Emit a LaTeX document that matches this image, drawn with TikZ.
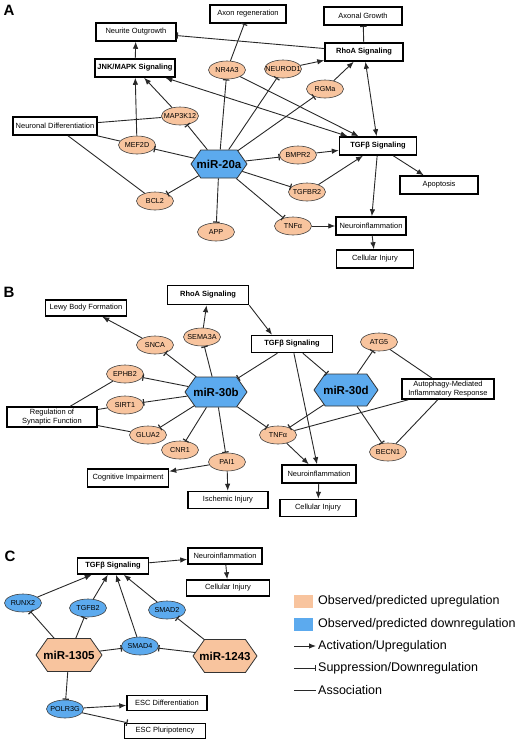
\documentclass[tikz,border=0pt]{standalone}
\usepackage{fontspec}
\setmainfont{Liberation Sans}
\usetikzlibrary{shapes, arrows.meta}
\definecolor{upcol}{RGB}{248,196,158}
\definecolor{downcol}{RGB}{92,170,238}
\definecolor{linecol}{RGB}{40,40,40}

\begin{document}
\begin{tikzpicture}[x=1pt, y=-1pt,
    >={Latex[length=7pt, width=5.5pt]},
    box/.style={draw=black, line width=1.5pt, fill=white, minimum height=18, inner sep=1.5pt, align=center, font=\fontsize{7.5}{9}\selectfont},
    sigbox/.style={box, font=\bfseries\fontsize{7.5}{9}\selectfont},
    gene/.style={ellipse, draw=black!75, line width=0.6pt, fill=upcol, minimum width=37, minimum height=18, inner xsep=-5pt, inner ysep=0pt, font=\fontsize{7.2}{8}\selectfont},
    downgene/.style={gene, fill=downcol},
    mirna/.style={signal, signal to=west and east, signal pointer angle=110, draw=black!80, line width=0.8pt, fill=downcol, minimum width=56, minimum height=28, inner xsep=-6pt, inner ysep=0pt, font=\bfseries\fontsize{11.5}{13}\selectfont},
    upmirna/.style={mirna, fill=upcol},
    panel/.style={font=\bfseries\fontsize{15}{17}\selectfont},
    act/.style={draw=linecol, line width=0.9pt, ->},
    dual/.style={draw=linecol, line width=0.9pt, <->},
    inhib/.style={draw=linecol, line width=0.9pt, -{Bar[width=6.5pt, line width=1.2pt]}},
    assoc/.style={draw=linecol, line width=0.9pt},
    legtext/.style={anchor=west, inner sep=2pt, font=\fontsize{12.5}{14}\selectfont}
]
    \useasboundingbox (0,0) rectangle (520,745);

    % Panel A
    \node[panel] (labA) at (9,10) {A};
    \node[box, minimum width=80] (neurite) at (136,32) {Neurite Outgrowth};
    \node[box, minimum width=76] (axonreg) at (248,14) {Axon regeneration};
    \node[box, minimum width=78] (axonal) at (363,16) {Axonal Growth};
    \node[sigbox, minimum width=78] (rhoA) at (364,52) {RhoA Signaling};
    \node[sigbox, minimum width=80] (jnkA) at (135,68) {JNK/MAPK Signaling};
    \node[box, minimum width=84] (neurdiff) at (55,126) {Neuronal Differentiation};
    \node[sigbox, minimum width=77] (tgfA) at (378,146) {TGFβ Signaling};
    \node[box, minimum width=78] (apopt) at (439,185) {Apoptosis};
    \node[box, minimum width=70] (neuroinfA) at (371,226) {Neuroinflammation};
    \node[box, minimum width=77] (injuryA) at (375,259) {Cellular Injury};
    \node[mirna] (mir20a) at (219,164) {miR-20a};
    \node[gene] (nr4a3) at (227,70) {NR4A3};
    \node[gene] (neurod1) at (283,69) {NEUROD1};
    \node[gene] (rgma) at (325,89) {RGMa};
    \node[gene] (map3k12) at (180,116) {MAP3K12};
    \node[gene] (mef2d) at (137,145) {MEF2D};
    \node[gene] (bcl2) at (155,201) {BCL2};
    \node[gene] (app) at (216,232) {APP};
    \node[gene] (bmpr2) at (298,155) {BMPR2};
    \node[gene] (tgfbr2) at (307,192) {TGFBR2};
    \node[gene] (tnfA) at (293,226) {TNFα};

    \draw[act] (jnkA) -- (neurite);
    \draw[inhib] (rhoA) -- (axonal);
    \draw[inhib] (rhoA) -- (neurite);
    \draw[inhib] (nr4a3) -- (axonreg);
    \draw[act] (nr4a3) -- (tgfA);
    \draw[dual] (jnkA) -- (tgfA);
    \draw[act] (map3k12) -- (jnkA);
    \draw[assoc] (map3k12) -- (neurdiff);
    \draw[act] (mef2d) -- (jnkA);
    \draw[assoc] (mef2d) -- (neurdiff);
    \draw[assoc] (bcl2) -- (neurdiff);
    \draw[inhib] (mir20a) -- (map3k12);
    \draw[inhib] (mir20a) -- (nr4a3);
    \draw[inhib] (mir20a) -- (neurod1);
    \draw[inhib] (mir20a) -- (rgma);
    \draw[inhib] (mir20a) -- (mef2d);
    \draw[inhib] (mir20a) -- (bcl2);
    \draw[inhib] (mir20a) -- (app);
    \draw[inhib] (mir20a) -- (bmpr2);
    \draw[inhib] (mir20a) -- (tgfbr2);
    \draw[inhib] (mir20a) -- (tnfA);
    \draw[act] (neurod1) -- (rhoA);
    \draw[act] (rgma) -- (rhoA);
    \draw[dual] (rhoA) -- (tgfA);
    \draw[act] (bmpr2) -- (tgfA);
    \draw[act] (tgfbr2) -- (tgfA);
    \draw[act] (tgfA) -- (apopt);
    \draw[act] (tgfA) -- (neuroinfA);
    \draw[act] (tnfA) -- (neuroinfA);
    \draw[act] (neuroinfA) -- (injuryA);

    % Panel B
    \node[panel] (labB) at (9,292) {B};
    \node[box, minimum width=81, minimum height=16] (lewy) at (86,308) {Lewy Body Formation};
    \node[sigbox, minimum width=81, minimum height=19] (rhoB) at (208,295) {RhoA Signaling};
    \node[sigbox, minimum width=81, minimum height=17] (tgfB) at (292,344) {TGFβ Signaling};
    \node[box, minimum width=92, minimum height=20] (autoph) at (448,389) {Autophagy-Mediated\\Inflammatory Response};
    \node[box, minimum width=90, minimum height=20] (regsyn) at (52,417) {Regulation of\\Synaptic Function};
    \node[box, minimum width=74] (neuroinfB) at (319,474) {Neuroinflammation};
    \node[box, minimum width=76, minimum height=17] (injuryB) at (318,508) {Cellular Injury};
    \node[box, minimum width=81] (cognit) at (128,478) {Cognitive Impairment};
    \node[box, minimum width=80, minimum height=17] (ischem) at (228,500) {Ischemic Injury};
    \node[mirna, minimum width=62, minimum height=30] (mir30b) at (216,392) {miR-30b};
    \node[mirna, minimum width=64, minimum height=32] (mir30d) at (346,390) {miR-30d};
    \node[gene] (sema3a) at (202,337) {SEMA3A};
    \node[gene] (snca) at (155,345) {SNCA};
    \node[gene] (ephb2) at (125,374) {EPHB2};
    \node[gene] (sirt1) at (125,405) {SIRT1};
    \node[gene] (glua2) at (148,435) {GLUA2};
    \node[gene] (cnr1) at (180,450) {CNR1};
    \node[gene] (pai1) at (227,462) {PAI1};
    \node[gene] (atg5) at (379,342) {ATG5};
    \node[gene] (tnfB) at (278,435) {TNFα};
    \node[gene] (becn1) at (388,452) {BECN1};

    \draw[act] (snca) -- (lewy);
    \draw[act] (sema3a) -- (rhoB);
    \draw[act] (rhoB.south east) -- ([xshift=-20pt]tgfB.north);
    \draw[inhib] (tgfB) -- (mir30b);
    \draw[inhib] (tgfB) -- (mir30d);
    \draw[act] (tgfB) -- (neuroinfB);
    \draw[inhib] (mir30b) -- (sema3a);
    \draw[inhib] (mir30b) -- (snca);
    \draw[inhib] (mir30b) -- (ephb2);
    \draw[inhib] (mir30b) -- (sirt1);
    \draw[inhib] (mir30b) -- (glua2);
    \draw[inhib] (mir30b) -- (cnr1);
    \draw[inhib] (mir30b) -- (pai1);
    \draw[inhib] (mir30b) -- (tnfB);
    \draw[inhib] (mir30d) -- (atg5);
    \draw[inhib] (mir30d) -- (becn1);
    \draw[inhib] (mir30d) -- (tnfB);
    \draw[assoc] (atg5) -- (autoph);
    \draw[assoc] (becn1) -- (autoph);
    \draw[assoc] (tnfB) -- (autoph);
    \draw[assoc] (ephb2) -- (regsyn);
    \draw[assoc] (sirt1) -- (regsyn);
    \draw[assoc] (glua2) -- (regsyn);
    \draw[act] (pai1) -- (cognit);
    \draw[act] (pai1) -- (ischem);
    \draw[act] (tnfB) -- (neuroinfB);
    \draw[act] (neuroinfB) -- (injuryB);

    % Panel C
    \node[panel] (labC) at (10,556) {C};
    \node[sigbox, minimum width=71, minimum height=16] (tgfC) at (113,566) {TGFβ Signaling};
    \node[box, minimum width=74, minimum height=16] (neuroinfC) at (225,556) {Neuroinflammation};
    \node[box, minimum width=83, minimum height=16] (injuryC) at (228,588) {Cellular Injury};
    \node[box, minimum width=80, minimum height=15] (escdiff) at (167,703) {ESC Differentiation};
    \node[box, minimum width=81, minimum height=15] (escplur) at (165,731) {ESC Pluripotency};
    \node[upmirna, minimum width=66, minimum height=33] (mir1305) at (69,655) {miR-1305};
    \node[upmirna, minimum width=64, minimum height=33] (mir1243) at (225,656) {miR-1243};
    \node[downgene] (runx2) at (23,603) {RUNX2};
    \node[downgene] (tgfb2) at (88,608) {TGFB2};
    \node[downgene] (smad2) at (167,610) {SMAD2};
    \node[downgene] (smad4) at (140,646) {SMAD4};
    \node[downgene] (polr3g) at (65,709) {POLR3G};

    \draw[act] (tgfC) -- (neuroinfC);
    \draw[act] (neuroinfC) -- (injuryC);
    \draw[act] (runx2) -- (tgfC);
    \draw[act] (tgfb2) -- (tgfC);
    \draw[act] (smad2) -- (tgfC);
    \draw[act] (smad4) -- (tgfC);
    \draw[inhib] (mir1305) -- (runx2);
    \draw[inhib] (mir1305) -- (tgfb2);
    \draw[inhib] (mir1305) -- (smad4);
    \draw[inhib] (mir1305) -- (polr3g);
    \draw[inhib] (mir1243) -- (smad2);
    \draw[inhib] (mir1243) -- (smad4);
    \draw[act] (polr3g) -- (escdiff);
    \draw[inhib] (polr3g) -- (escplur);

    % Legend
    \node[fill=upcol, minimum width=19, minimum height=13, inner sep=0pt] (legup) at (303,601) {};
    \node[fill=downcol, minimum width=19, minimum height=13, inner sep=0pt] (legdown) at (303,624) {};
    \node[legtext] (legupt) at (316,601) {Observed/predicted upregulation};
    \node[legtext] (legdownt) at (316,624) {Observed/predicted downregulation};
    \node[legtext] (legactt) at (316,646) {Activation/Upregulation};
    \node[legtext] (leginht) at (316,668) {Suppression/Downregulation};
    \node[legtext] (legasst) at (316,690) {Association};
    \coordinate (legact) at (294,646);
    \coordinate (leginh) at (294,668);
    \coordinate (legass) at (294,690);
    \draw[act] (legact) -- (legactt.west);
    \draw[inhib] (leginh) -- (leginht.west);
    \draw[assoc] (legass) -- (legasst.west);
\end{tikzpicture}
\end{document}
